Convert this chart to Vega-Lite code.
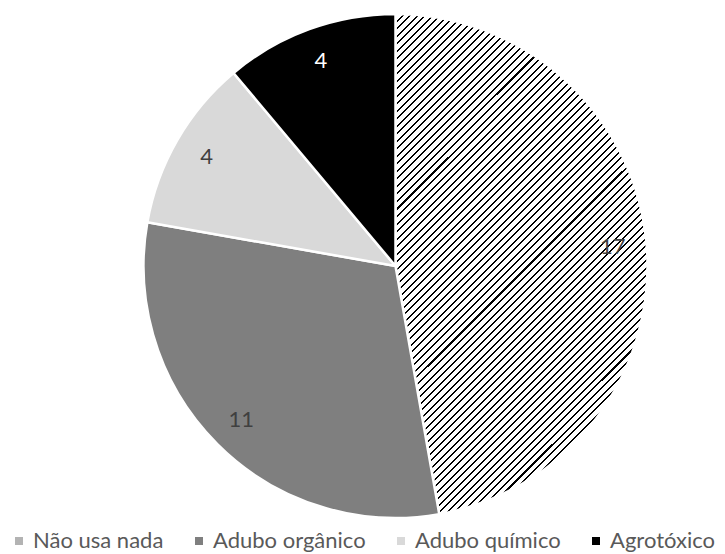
{
 "$schema": "https://vega.github.io/schema/vega-lite/v6.json",
 "width": 659, "height": 532,
 "autosize": {"type": "none"},
 "padding": {"left": 66, "top": 0, "right": 0, "bottom": 22},
 "background": "white",
 "data": {"values": [
   {"cat": "Não usa nada", "v": 17, "o": 1},
   {"cat": "Adubo orgânico", "v": 11, "o": 2},
   {"cat": "Adubo químico", "v": 4, "o": 3},
   {"cat": "Agrotóxico", "v": 4, "o": 4}
 ]},
 "encoding": {
   "theta": {"field": "v", "type": "quantitative", "stack": true},
   "order": {"field": "o", "type": "quantitative"}
 },
 "layer": [
  {"mark": {"type": "arc", "outerRadius": 252, "stroke": "white", "strokeWidth": 2.5},
   "encoding": {"fill": {
     "condition": {"test": "datum.cat === 'Não usa nada'", "value": {"gradient": "linear", "x1": 0, "y1": 0, "x2": 0.604, "y2": 1.199, "stops": [
{"offset":0,"color":"#000"},{"offset":0.0027,"color":"#000"},{"offset":0.0027,"color":"#fff"},{"offset":0.01,"color":"#fff"},
{"offset":0.01,"color":"#000"},{"offset":0.0127,"color":"#000"},{"offset":0.0127,"color":"#fff"},{"offset":0.02,"color":"#fff"},
{"offset":0.02,"color":"#000"},{"offset":0.0227,"color":"#000"},{"offset":0.0227,"color":"#fff"},{"offset":0.03,"color":"#fff"},
{"offset":0.03,"color":"#000"},{"offset":0.0327,"color":"#000"},{"offset":0.0327,"color":"#fff"},{"offset":0.04,"color":"#fff"},
{"offset":0.04,"color":"#000"},{"offset":0.0427,"color":"#000"},{"offset":0.0427,"color":"#fff"},{"offset":0.05,"color":"#fff"},
{"offset":0.05,"color":"#000"},{"offset":0.0527,"color":"#000"},{"offset":0.0527,"color":"#fff"},{"offset":0.06,"color":"#fff"},
{"offset":0.06,"color":"#000"},{"offset":0.0627,"color":"#000"},{"offset":0.0627,"color":"#fff"},{"offset":0.07,"color":"#fff"},
{"offset":0.07,"color":"#000"},{"offset":0.0727,"color":"#000"},{"offset":0.0727,"color":"#fff"},{"offset":0.08,"color":"#fff"},
{"offset":0.08,"color":"#000"},{"offset":0.0827,"color":"#000"},{"offset":0.0827,"color":"#fff"},{"offset":0.09,"color":"#fff"},
{"offset":0.09,"color":"#000"},{"offset":0.0927,"color":"#000"},{"offset":0.0927,"color":"#fff"},{"offset":0.10,"color":"#fff"},
{"offset":0.10,"color":"#000"},{"offset":0.1027,"color":"#000"},{"offset":0.1027,"color":"#fff"},{"offset":0.11,"color":"#fff"},
{"offset":0.11,"color":"#000"},{"offset":0.1127,"color":"#000"},{"offset":0.1127,"color":"#fff"},{"offset":0.12,"color":"#fff"},
{"offset":0.12,"color":"#000"},{"offset":0.1227,"color":"#000"},{"offset":0.1227,"color":"#fff"},{"offset":0.13,"color":"#fff"},
{"offset":0.13,"color":"#000"},{"offset":0.1327,"color":"#000"},{"offset":0.1327,"color":"#fff"},{"offset":0.14,"color":"#fff"},
{"offset":0.14,"color":"#000"},{"offset":0.1427,"color":"#000"},{"offset":0.1427,"color":"#fff"},{"offset":0.15,"color":"#fff"},
{"offset":0.15,"color":"#000"},{"offset":0.1527,"color":"#000"},{"offset":0.1527,"color":"#fff"},{"offset":0.16,"color":"#fff"},
{"offset":0.16,"color":"#000"},{"offset":0.1627,"color":"#000"},{"offset":0.1627,"color":"#fff"},{"offset":0.17,"color":"#fff"},
{"offset":0.17,"color":"#000"},{"offset":0.1727,"color":"#000"},{"offset":0.1727,"color":"#fff"},{"offset":0.18,"color":"#fff"},
{"offset":0.18,"color":"#000"},{"offset":0.1827,"color":"#000"},{"offset":0.1827,"color":"#fff"},{"offset":0.19,"color":"#fff"},
{"offset":0.19,"color":"#000"},{"offset":0.1927,"color":"#000"},{"offset":0.1927,"color":"#fff"},{"offset":0.20,"color":"#fff"},
{"offset":0.20,"color":"#000"},{"offset":0.2027,"color":"#000"},{"offset":0.2027,"color":"#fff"},{"offset":0.21,"color":"#fff"},
{"offset":0.21,"color":"#000"},{"offset":0.2127,"color":"#000"},{"offset":0.2127,"color":"#fff"},{"offset":0.22,"color":"#fff"},
{"offset":0.22,"color":"#000"},{"offset":0.2227,"color":"#000"},{"offset":0.2227,"color":"#fff"},{"offset":0.23,"color":"#fff"},
{"offset":0.23,"color":"#000"},{"offset":0.2327,"color":"#000"},{"offset":0.2327,"color":"#fff"},{"offset":0.24,"color":"#fff"},
{"offset":0.24,"color":"#000"},{"offset":0.2427,"color":"#000"},{"offset":0.2427,"color":"#fff"},{"offset":0.25,"color":"#fff"},
{"offset":0.25,"color":"#000"},{"offset":0.2527,"color":"#000"},{"offset":0.2527,"color":"#fff"},{"offset":0.26,"color":"#fff"},
{"offset":0.26,"color":"#000"},{"offset":0.2627,"color":"#000"},{"offset":0.2627,"color":"#fff"},{"offset":0.27,"color":"#fff"},
{"offset":0.27,"color":"#000"},{"offset":0.2727,"color":"#000"},{"offset":0.2727,"color":"#fff"},{"offset":0.28,"color":"#fff"},
{"offset":0.28,"color":"#000"},{"offset":0.2827,"color":"#000"},{"offset":0.2827,"color":"#fff"},{"offset":0.29,"color":"#fff"},
{"offset":0.29,"color":"#000"},{"offset":0.2927,"color":"#000"},{"offset":0.2927,"color":"#fff"},{"offset":0.30,"color":"#fff"},
{"offset":0.30,"color":"#000"},{"offset":0.3027,"color":"#000"},{"offset":0.3027,"color":"#fff"},{"offset":0.31,"color":"#fff"},
{"offset":0.31,"color":"#000"},{"offset":0.3127,"color":"#000"},{"offset":0.3127,"color":"#fff"},{"offset":0.32,"color":"#fff"},
{"offset":0.32,"color":"#000"},{"offset":0.3227,"color":"#000"},{"offset":0.3227,"color":"#fff"},{"offset":0.33,"color":"#fff"},
{"offset":0.33,"color":"#000"},{"offset":0.3327,"color":"#000"},{"offset":0.3327,"color":"#fff"},{"offset":0.34,"color":"#fff"},
{"offset":0.34,"color":"#000"},{"offset":0.3427,"color":"#000"},{"offset":0.3427,"color":"#fff"},{"offset":0.35,"color":"#fff"},
{"offset":0.35,"color":"#000"},{"offset":0.3527,"color":"#000"},{"offset":0.3527,"color":"#fff"},{"offset":0.36,"color":"#fff"},
{"offset":0.36,"color":"#000"},{"offset":0.3627,"color":"#000"},{"offset":0.3627,"color":"#fff"},{"offset":0.37,"color":"#fff"},
{"offset":0.37,"color":"#000"},{"offset":0.3727,"color":"#000"},{"offset":0.3727,"color":"#fff"},{"offset":0.38,"color":"#fff"},
{"offset":0.38,"color":"#000"},{"offset":0.3827,"color":"#000"},{"offset":0.3827,"color":"#fff"},{"offset":0.39,"color":"#fff"},
{"offset":0.39,"color":"#000"},{"offset":0.3927,"color":"#000"},{"offset":0.3927,"color":"#fff"},{"offset":0.40,"color":"#fff"},
{"offset":0.40,"color":"#000"},{"offset":0.4027,"color":"#000"},{"offset":0.4027,"color":"#fff"},{"offset":0.41,"color":"#fff"},
{"offset":0.41,"color":"#000"},{"offset":0.4127,"color":"#000"},{"offset":0.4127,"color":"#fff"},{"offset":0.42,"color":"#fff"},
{"offset":0.42,"color":"#000"},{"offset":0.4227,"color":"#000"},{"offset":0.4227,"color":"#fff"},{"offset":0.43,"color":"#fff"},
{"offset":0.43,"color":"#000"},{"offset":0.4327,"color":"#000"},{"offset":0.4327,"color":"#fff"},{"offset":0.44,"color":"#fff"},
{"offset":0.44,"color":"#000"},{"offset":0.4427,"color":"#000"},{"offset":0.4427,"color":"#fff"},{"offset":0.45,"color":"#fff"},
{"offset":0.45,"color":"#000"},{"offset":0.4527,"color":"#000"},{"offset":0.4527,"color":"#fff"},{"offset":0.46,"color":"#fff"},
{"offset":0.46,"color":"#000"},{"offset":0.4627,"color":"#000"},{"offset":0.4627,"color":"#fff"},{"offset":0.47,"color":"#fff"},
{"offset":0.47,"color":"#000"},{"offset":0.4727,"color":"#000"},{"offset":0.4727,"color":"#fff"},{"offset":0.48,"color":"#fff"},
{"offset":0.48,"color":"#000"},{"offset":0.4827,"color":"#000"},{"offset":0.4827,"color":"#fff"},{"offset":0.49,"color":"#fff"},
{"offset":0.49,"color":"#000"},{"offset":0.4927,"color":"#000"},{"offset":0.4927,"color":"#fff"},{"offset":0.50,"color":"#fff"},
{"offset":0.50,"color":"#000"},{"offset":0.5027,"color":"#000"},{"offset":0.5027,"color":"#fff"},{"offset":0.51,"color":"#fff"},
{"offset":0.51,"color":"#000"},{"offset":0.5127,"color":"#000"},{"offset":0.5127,"color":"#fff"},{"offset":0.52,"color":"#fff"},
{"offset":0.52,"color":"#000"},{"offset":0.5227,"color":"#000"},{"offset":0.5227,"color":"#fff"},{"offset":0.53,"color":"#fff"},
{"offset":0.53,"color":"#000"},{"offset":0.5327,"color":"#000"},{"offset":0.5327,"color":"#fff"},{"offset":0.54,"color":"#fff"},
{"offset":0.54,"color":"#000"},{"offset":0.5427,"color":"#000"},{"offset":0.5427,"color":"#fff"},{"offset":0.55,"color":"#fff"},
{"offset":0.55,"color":"#000"},{"offset":0.5527,"color":"#000"},{"offset":0.5527,"color":"#fff"},{"offset":0.56,"color":"#fff"},
{"offset":0.56,"color":"#000"},{"offset":0.5627,"color":"#000"},{"offset":0.5627,"color":"#fff"},{"offset":0.57,"color":"#fff"},
{"offset":0.57,"color":"#000"},{"offset":0.5727,"color":"#000"},{"offset":0.5727,"color":"#fff"},{"offset":0.58,"color":"#fff"},
{"offset":0.58,"color":"#000"},{"offset":0.5827,"color":"#000"},{"offset":0.5827,"color":"#fff"},{"offset":0.59,"color":"#fff"},
{"offset":0.59,"color":"#000"},{"offset":0.5927,"color":"#000"},{"offset":0.5927,"color":"#fff"},{"offset":0.60,"color":"#fff"},
{"offset":0.60,"color":"#000"},{"offset":0.6027,"color":"#000"},{"offset":0.6027,"color":"#fff"},{"offset":0.61,"color":"#fff"},
{"offset":0.61,"color":"#000"},{"offset":0.6127,"color":"#000"},{"offset":0.6127,"color":"#fff"},{"offset":0.62,"color":"#fff"},
{"offset":0.62,"color":"#000"},{"offset":0.6227,"color":"#000"},{"offset":0.6227,"color":"#fff"},{"offset":0.63,"color":"#fff"},
{"offset":0.63,"color":"#000"},{"offset":0.6327,"color":"#000"},{"offset":0.6327,"color":"#fff"},{"offset":0.64,"color":"#fff"},
{"offset":0.64,"color":"#000"},{"offset":0.6427,"color":"#000"},{"offset":0.6427,"color":"#fff"},{"offset":0.65,"color":"#fff"},
{"offset":0.65,"color":"#000"},{"offset":0.6527,"color":"#000"},{"offset":0.6527,"color":"#fff"},{"offset":0.66,"color":"#fff"},
{"offset":0.66,"color":"#000"},{"offset":0.6627,"color":"#000"},{"offset":0.6627,"color":"#fff"},{"offset":0.67,"color":"#fff"},
{"offset":0.67,"color":"#000"},{"offset":0.6727,"color":"#000"},{"offset":0.6727,"color":"#fff"},{"offset":0.68,"color":"#fff"},
{"offset":0.68,"color":"#000"},{"offset":0.6827,"color":"#000"},{"offset":0.6827,"color":"#fff"},{"offset":0.69,"color":"#fff"},
{"offset":0.69,"color":"#000"},{"offset":0.6927,"color":"#000"},{"offset":0.6927,"color":"#fff"},{"offset":0.70,"color":"#fff"},
{"offset":0.70,"color":"#000"},{"offset":0.7027,"color":"#000"},{"offset":0.7027,"color":"#fff"},{"offset":0.71,"color":"#fff"},
{"offset":0.71,"color":"#000"},{"offset":0.7127,"color":"#000"},{"offset":0.7127,"color":"#fff"},{"offset":0.72,"color":"#fff"},
{"offset":0.72,"color":"#000"},{"offset":0.7227,"color":"#000"},{"offset":0.7227,"color":"#fff"},{"offset":0.73,"color":"#fff"},
{"offset":0.73,"color":"#000"},{"offset":0.7327,"color":"#000"},{"offset":0.7327,"color":"#fff"},{"offset":0.74,"color":"#fff"},
{"offset":0.74,"color":"#000"},{"offset":0.7427,"color":"#000"},{"offset":0.7427,"color":"#fff"},{"offset":0.75,"color":"#fff"},
{"offset":0.75,"color":"#000"},{"offset":0.7527,"color":"#000"},{"offset":0.7527,"color":"#fff"},{"offset":0.76,"color":"#fff"},
{"offset":0.76,"color":"#000"},{"offset":0.7627,"color":"#000"},{"offset":0.7627,"color":"#fff"},{"offset":0.77,"color":"#fff"},
{"offset":0.77,"color":"#000"},{"offset":0.7727,"color":"#000"},{"offset":0.7727,"color":"#fff"},{"offset":0.78,"color":"#fff"},
{"offset":0.78,"color":"#000"},{"offset":0.7827,"color":"#000"},{"offset":0.7827,"color":"#fff"},{"offset":0.79,"color":"#fff"},
{"offset":0.79,"color":"#000"},{"offset":0.7927,"color":"#000"},{"offset":0.7927,"color":"#fff"},{"offset":0.80,"color":"#fff"},
{"offset":0.80,"color":"#000"},{"offset":0.8027,"color":"#000"},{"offset":0.8027,"color":"#fff"},{"offset":0.81,"color":"#fff"},
{"offset":0.81,"color":"#000"},{"offset":0.8127,"color":"#000"},{"offset":0.8127,"color":"#fff"},{"offset":1,"color":"#fff"}
     ]}},
     "field": "cat", "type": "nominal",
     "scale": {"domain": ["Não usa nada", "Adubo orgânico", "Adubo químico", "Agrotóxico"], "range": ["#b3b3b3", "#7f7f7f", "#d9d9d9", "#000000"]},
     "legend": {"title": null, "orient": "none", "legendX": -58, "legendY": 530, "direction": "horizontal", "columns": 4,
       "symbolType": "square", "symbolSize": 64, "symbolStrokeWidth": 0,
       "labelFont": "Lato", "labelFontSize": 22, "labelColor": "#595959", "labelOffset": 3,
       "columnPadding": 24, "gridAlign": "each", "labelLimit": 300}
   }}},
  {"mark": {"type": "text", "radius": 218, "font": "Lato", "fontSize": 22},
   "encoding": {
     "text": {"field": "v", "type": "quantitative"},
     "color": {"condition": {"test": "datum.cat === 'Agrotóxico'", "value": "white"}, "value": "#404040"}
   }}
 ],
 "config": {"view": {"stroke": null}}
}
